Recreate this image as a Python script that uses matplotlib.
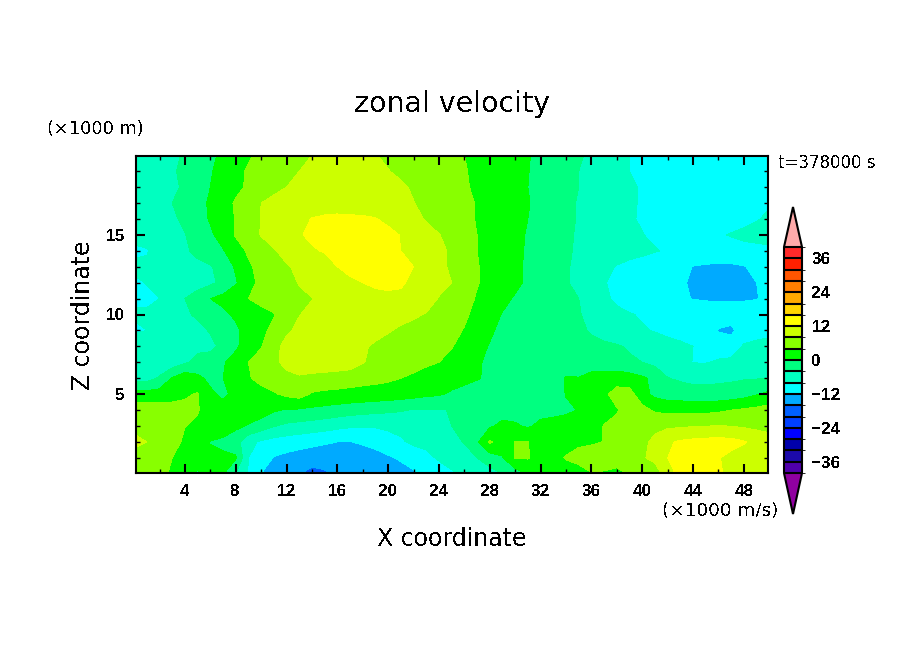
import matplotlib
matplotlib.use("Agg")
import matplotlib.pyplot as plt
from matplotlib.colors import ListedColormap, BoundaryNorm
import numpy as np

# grid of the field, x every 1 km, z every 1 km
x_km = list(range(0, 51))
z_km = list(range(0, 21))

u_z00 = [6.5, 6, 5, 3.5, 1.5, -.5, 4.5, .3, -4, -8.3, -12, -13.5, -14.8, -15.8, -17.5, -16.5, -15, -14.8, -14.5, -14.2, -14, -13.5, -12.5, -11, -10, -8.5, -7.5, -6.5, -5.5, -4, -2, .2, 1, 3.5, 2.5, 2, 3.8, 3.5, 2.5, 4.5, 5.5, 7, 9, 14, 16.5, 13.5, 12.5, 11, 10.5, 10, 9.8]
u_z01 = [6.5, 6.3, 5.5, 4, 2.5, 1.5, 1, .8, .5, -8, -10, -12.2, -13, -13.6, -14, -14.5, -14.5, -14, -14, -13.7, -12.5, -11.5, -10.5, -9, -7.5, -6.5, -5.5, -4, -2, -.3, 4.3, 4.3, 2, 3, 4.2, 5.5, 6, 6.2, 6.5, 7.2, 7.8, 8.5, 12, 12.8, 13, 13.2, 12.2, 11, 10.5, 10, 9.8]
u_z02 = [9, 8, 7, 5.5, 3.3, 2, -.2, -1, -2.3, -7, -8.5, -9.5, -10, -10.5, -11, -11.5, -12, -12.1, -11.5, -10.5, -9.5, -8.5, -7.2, -7, -6.5, -5, -3.8, -.6, 4.5, 2.5, 4.1, 4.1, 2, 2.5, 3, 3.2, 3.5, 4.1, 5, 6, 7, 9, 11.5, 12.5, 13, 13.3, 13.4, 13.2, 12.3, 11, 10]
u_z03 = [7, 7, 6.5, 5.7, 4.1, 3.5, 3, 2.5, .8, -.3, -2, -3.8, -4.8, -5.3, -5.8, -6.3, -7, -7.5, -7.7, -7.7, -7.3, -7, -7.5, -7.8, -7, -4, -3, -2.5, -.5, 1, .5, -.5, 1, 1.5, 2, 2.5, 3, 4.1, 4.6, 5.5, 6.5, 7, 7.3, 7.5, 7.8, 7.9, 8.2, 7.9, 7.5, 7, 6.5]
u_z04 = [6, 6, 5.8, 5.5, 5, 4.2, 2.5, 1.5, 1.5, 2.5, 2, .5, -.3, -.4, -.8, -1.2, -1.7, -2.2, -2.6, -3, -3.3, -3.7, -4.2, -4.3, -4.3, -3.8, -3.2, -2.5, -2, -1.7, -1.6, -1.5, -1.4, -1.2, -.8, .2, 2, 3.2, 3.8, 5, 5.2, 3.5, 3, 3, 3, 3, 3.3, 4, 4.5, 5, 5.5]
u_z05 = [1.5, 1.5, 1.8, 2.5, 3.5, 4.3, .8, -.8, 1, 1.8, 2.8, 3.6, 4.8, 5.5, 3.6, 3.2, 3, 2.8, 2.6, 2.4, 2.2, 1.8, 1.4, .8, .4, -.5, -1, -1.5, -2, -2.5, -3, -3.3, -3.5, -2.5, .2, .5, 2, 3.5, 5, 5.5, 1.5, -1, -2, -2.2, -2.5, -2.5, -2.5, -2.2, -1.5, -.3, 1]
u_z06 = [-5.5, -5.5, -3.5, .3, 2.5, 1, -1, 0, 2.5, 3.7, 5, 6, 7, 7.5, 7, 6.5, 6.2, 5.7, 5.3, 5, 4.6, 4, 3.4, 2.8, 2.3, 1.5, .8, .2, -.5, -1.5, -2, -2.5, -2.7, -2.5, .4, .2, 2, 2.6, 2.8, 1.8, .6, -1, -3.9, -4.5, -5, -5, -4.8, -4.6, -4.3, -4.2, -4]
u_z07 = [-6.5, -7, -6.8, -6.3, -4.5, -3, -2, -.3, 1.2, 4, 5.3, 7.2, 9, 10, 10.3, 10.5, 10.3, 10, 8.2, 7, 6.5, 6, 5.2, 4.5, 4, 3, 2, .5, -.8, -1.2, -1.5, -2, -2.3, -2.5, -2.6, -2.8, -3, -3.2, -3.4, -3.6, -4, -5, -6, -7, -8.1, -8.2, -7.5, -7, -6.5, -6.2, -6]
u_z08 = [-6, -6.5, -6.3, -6, -4.3, -4.8, -5, -3, -.5, 1.5, 3.8, 7, 9, 10, 10.3, 10.5, 10, 9.5, 8.6, 7.3, 6.7, 6.2, 5.8, 5.2, 4.8, 4.2, 2.5, 1, -.2, -1, -1.5, -2, -2.3, -2.5, -2.7, -3, -3.2, -3.4, -3.7, -4.3, -5.5, -6.3, -7, -7.5, -8, -8.5, -10, -10.5, -7.5, -7, -6.8]
u_z09 = [-8.5, -8, -7.5, -6.5, -6, -5, -3.7, -2.5, -1, 2, 3.2, 4.8, 7.5, 8.7, 9.5, 10, 10.4, 10.5, 10.2, 9.5, 8.3, 7.5, 7, 6.3, 5.8, 5, 3.8, 2.5, .5, -.8, -1.5, -2, -2.3, -2.6, -3, -3.4, -4.3, -5.2, -6, -6.8, -7.7, -8.2, -8.7, -9, -9.5, -10, -12.2, -12.6, -10.5, -9.6, -9]
u_z10 = [-7.7, -7.7, -7, -6, -4.6, -3.4, -2.5, -1, .8, 2, 2.9, 3.8, 5.5, 7.9, 8.8, 9.5, 10, 10.3, 10.5, 10.7, 10, 9, 8.5, 7.8, 6.8, 5.8, 4.6, 3, 1.5, -.2, -1, -1.8, -2.3, -2.8, -3.2, -3.8, -4.8, -6, -7, -7.8, -8.3, -8.8, -9.2, -9.6, -10, -10.3, -10.5, -10.7, -10.5, -10.4, -10.2]
u_z11 = [-8.4, -8.4, -8, -6.3, -4, -2, 0, 1.2, 2.5, 4, 5, 6, 6.7, 7.3, 7.9, 8.7, 9.4, 10, 10.5, 11, 11, 11, 10.4, 9.5, 7.8, 6.6, 5.2, 3.7, 2.3, 1, -.4, -1.3, -2, -2.7, -3.3, -4, -5.5, -7.2, -8.8, -9.5, -10, -10.6, -11.2, -11.6, -12.1, -12.3, -12.3, -12.3, -12.3, -12.1, -11.5]
u_z12 = [-8.4, -7.9, -7.2, -6.8, -6.4, -5.8, -4.7, -3.2, -.4, 2.8, 4.9, 5.9, 6.9, 8.2, 9.3, 10.3, 11, 11.5, 12, 12.6, 13, 12.6, 11, 10.1, 9.1, 8, 6, 4.2, 3, 2, .9, -.7, -1.7, -2.7, -3.7, -5, -6.4, -7.8, -8.8, -9.5, -10, -10.5, -11, -11.8, -12.2, -12.6, -12.8, -12.9, -12.8, -12, -11]
u_z13 = [-7.5, -7.5, -6.8, -6.2, -5.8, -5, -4.3, -2.5, .5, 3.5, 5, 6.2, 7.7, 8.6, 9.4, 10.3, 12, 12.8, 13.4, 13.8, 13.8, 12.7, 12, 10.8, 8.8, 7.5, 6, 4.2, 3, 2, .8, -.6, -1.6, -2.6, -3.7, -4.7, -5.5, -7, -8.2, -9, -9.5, -10, -10.5, -11, -12.1, -12.5, -12.6, -12.6, -12.2, -11, -10]
u_z14 = [-8.5, -8.2, -7, -5.6, -4.6, -3, -1.5, -.3, 2.5, 4.5, 6, 7.7, 9.2, 10.5, 11.6, 12.3, 13, 13.5, 13.7, 13.5, 13, 12, 10.8, 9.8, 8.8, 7.5, 6, 4, 2.9, 1.9, .8, -.4, -1.4, -2.4, -3.5, -4.5, -5.2, -5.7, -6.2, -6.7, -7.2, -7.8, -8.3, -9, -9.4, -9.4, -9.4, -9.4, -9.2, -8.9, -8.6]
u_z15 = [-7.2, -6.8, -5.8, -5, -4.1, -2.7, -.7, 1.8, 4.3, 6.3, 8.2, 10, 11, 11.7, 12.7, 13.2, 13.4, 13.5, 13.5, 13.2, 12.6, 11.9, 11, 10, 8.1, 7, 5.5, 4, 2.9, 1.9, .9, -.3, -1.2, -2.2, -3.4, -4.4, -5.3, -6, -6.6, -7.2, -7.9, -8.6, -9, -9.3, -9.2, -8.8, -8.3, -7.8, -7.2, -7, -7]
u_z16 = [-7, -6.5, -5.8, -4.5, -3.4, -1.8, .4, 2, 4.2, 6.4, 8.1, 9.5, 10.5, 11.3, 12.1, 12.4, 12.5, 12.4, 12.3, 12.1, 11.5, 10.7, 9.4, 7.6, 6.7, 5.8, 4.8, 3.8, 2.9, 1.9, 1, 0, -1, -2, -3.1, -4.3, -5.3, -6.3, -7, -7.7, -8.3, -9, -9.5, -9.5, -9.5, -9.5, -9.5, -9.4, -9, -8.2, -7.5]
u_z17 = [-7, -6.5, -5.5, -4, -3, -1.5, .6, 2.2, 4.5, 6.3, 8, 9, 10, 10.5, 10.7, 10.8, 10.9, 10.9, 10.9, 10.8, 10.5, 10, 8.1, 7, 6.4, 5.6, 4.8, 3.8, 2.8, 1.9, 1, .2, -1, -2, -3.1, -4.3, -5.3, -6.2, -7, -7.7, -8.2, -9, -9.5, -9.5, -9.5, -9.5, -9.5, -9.4, -9.2, -8.8, -8.3]
u_z18 = [-6.8, -6.2, -5.6, -4.8, -3.4, -2.2, 0, 1.4, 3, 4.6, 5.6, 7, 8, 9, 10, 10.5, 11, 11, 11, 10.5, 9.7, 8.5, 7.6, 6.9, 6.2, 5.5, 4.4, 3.4, 2.6, 1.7, .9, 0, -.9, -1.9, -2.9, -4, -4.9, -5.7, -6.5, -7.5, -8.3, -9, -9.5, -9.7, -9.7, -9.7, -9.6, -9.2, -8.7, -8.2, -8.3]
u_z19 = [-7, -6.4, -5.5, -4.4, -3.2, -1.8, -.3, 1.3, 3, 4.4, 5.2, 6, 6.8, 8, 9, 9.8, 10.2, 10.2, 9.6, 9, 8.1, 7.4, 6.8, 6.2, 5.6, 5, 4.2, 3.4, 2.6, 1.8, .9, .1, -.9, -1.9, -2.9, -4, -5, -6, -7, -8, -8.8, -9.2, -9.4, -9.5, -9.5, -9.5, -9.5, -9, -8.5, -8, -8.5]
u_z20 = [-7, -6.2, -5.8, -4.8, -3.6, -2.1, -.7, .7, 2.1, 3.6, 4.7, 5.4, 6.2, 7, 8, 8.7, 9.3, 9.3, 8.9, 8.1, 7.5, 7, 6.4, 5.8, 5.2, 4.6, 4, 3.2, 2.4, 1.7, .9, .2, -.8, -1.7, -2.7, -3.6, -4.6, -5.6, -6.9, -8, -8.6, -9, -9, -9, -9, -9, -9, -9, -9, -9, -9]

levels = list(range(-40, 41, 4))
band_colors = ["#5000aa", "#1c0aaa", "#0000aa", "#0000ff", "#0040ff", "#0060ff", "#00aaff", "#00ffff",
               "#00ffc0", "#00ff80", "#00ff00", "#88ff00", "#ccff00", "#ffff00", "#ffd500", "#ffaa00",
               "#ff7f00", "#ff5500", "#ff2000", "#ff2a2a"]
under_color = "#9000a0"
over_color = "#ffaaaa"
cbar_ticks = [-36, -24, -12, 0, 12, 24, 36]

plt.rcParams["text.antialiased"] = False
plt.rcParams["font.family"] = "DejaVu Sans"

W, H = 904, 654
fig = plt.figure(figsize=(W / 100, H / 100), dpi=100, facecolor="white")
ax = fig.add_axes([136 / W, 1 - 473 / H, 632 / W, 317 / H])

field = np.array([u_z00, u_z01, u_z02, u_z03, u_z04, u_z05, u_z06, u_z07, u_z08, u_z09, u_z10,
                  u_z11, u_z12, u_z13, u_z14, u_z15, u_z16, u_z17, u_z18, u_z19, u_z20])

cmap = ListedColormap(band_colors)
cmap.set_under(under_color)
cmap.set_over(over_color)
norm = BoundaryNorm(levels, cmap.N)

cs = ax.contourf(x_km, z_km, field, levels=levels, cmap=cmap, norm=norm, extend="both", antialiased=False)
ax.set_xlim(0.15, 49.9)
ax.set_ylim(0.05, 19.95)

ax.set_xticks(range(4, 49, 4))
ax.set_xticks(range(2, 50, 2), minor=True)
ax.set_yticks([5, 10, 15])
ax.set_yticks(range(1, 20), minor=True)
ax.tick_params(which="major", direction="in", top=True, right=True, length=6.5, width=1.5, pad=8)
ax.tick_params(which="minor", direction="in", top=True, right=True, length=3, width=1)
for lab in ax.get_xticklabels() + ax.get_yticklabels():
    lab.set_fontfamily("Liberation Sans")
    lab.set_fontsize(12.3)
    lab.set_fontweight("bold")
for s in ax.spines.values():
    s.set_linewidth(1.5)

fig.text(452 / W, 1 - 539 / H, "X coordinate", fontsize=17, ha="center", va="center")
fig.text(83 / W, 1 - 315 / H, "Z coordinate", fontsize=17, rotation=90, ha="center", va="center")
fig.text(452 / W, 1 - 104 / H, "zonal velocity", fontsize=20.5, ha="center", va="center")
fig.text(47 / W, 1 - 129 / H, "(\u00d71000 m)", fontsize=12.8, ha="left", va="center")
fig.text(662 / W, 1 - 511 / H, "(\u00d71000 m/s)", fontsize=13.2, ha="left", va="center")
fig.text(778 / W, 1 - 163 / H, "t=378000 s", fontsize=12, ha="left", va="center")

# colour bar with the two pointed ends
cax = fig.add_axes([784 / W, 1 - 514 / H, 18 / W, 307 / H])
cb = fig.colorbar(cs, cax=cax, ticks=cbar_ticks, extend="both", extendfrac=(0.181, 0.177),
                  drawedges=True, spacing="proportional")
cb.ax.tick_params(length=0, pad=7)
for lab in cb.ax.get_yticklabels():
    lab.set_fontfamily("Liberation Sans")
    lab.set_fontsize(12.3)
    lab.set_fontweight("bold")
cb.outline.set_linewidth(1.5)
cb.outline.set_edgecolor("black")
cb.dividers.set_linewidth(1.5)
cb.dividers.set_color("black")

fig.savefig("out.png", dpi=100)
